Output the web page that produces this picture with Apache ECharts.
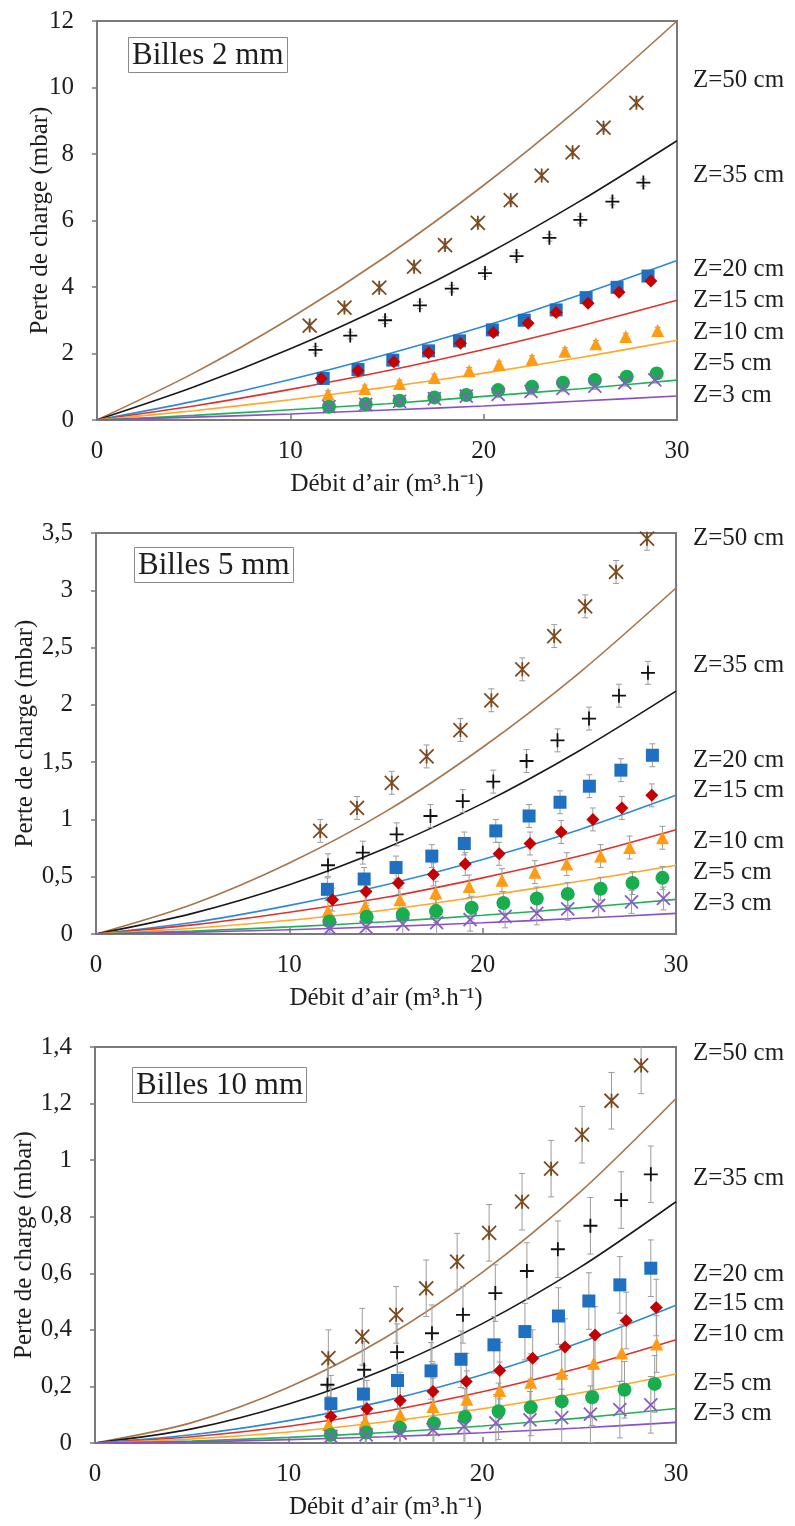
<!DOCTYPE html>
<html>
<head>
<meta charset="utf-8">
<script src="https://cdn.jsdelivr.net/npm/echarts@6/dist/echarts.min.js"></script>
<style>
html,body{margin:0;padding:0;background:#fff;}
#chart{width:795px;height:1526px;}
</style>
</head>
<body>
<div id="chart"></div>
<script>
// ---------------- DATA ----------------
const Z_LABELS = ['Z=50 cm','Z=35 cm','Z=20 cm','Z=15 cm','Z=10 cm','Z=5 cm','Z=3 cm'];
const PANEL_TITLES = ['Billes 2 mm','Billes 5 mm','Billes 10 mm'];
const X_TITLE = 'Débit d’air (m³.h⁻¹)';
const Y_TITLE = 'Perte de charge (mbar)';
const X_TICKS = ['0','10','20','30'];
const P1_YTICKS = ['0','2','4','6','8','10','12'];
const P2_YTICKS = ['0','0,5','1','1,5','2','2,5','3','3,5'];
const P3_YTICKS = ['0','0,2','0,4','0,6','0,8','1','1,2','1,4'];
const ERR = 0.1; // half-height of the error bars (mbar)

// model curves (read at these abscissae)
const MODEL_X = [0,5,10,15,20,25,30];
const P1_MODEL_Y = [
  [0,1.41,3.06,4.94,7.06,9.42,12.0],
  [0,0.99,2.14,3.46,4.94,6.59,8.4],
  [0,0.56,1.22,1.98,2.82,3.77,4.8],
  [0,0.42,0.92,1.48,2.12,2.83,3.6],
  [0,0.28,0.61,0.99,1.41,1.88,2.4],
  [0,0.14,0.31,0.49,0.71,0.94,1.2],
  [0,0.085,0.18,0.30,0.42,0.57,0.72]
];
const P2_MODEL_Y = [
  [0,0.26,0.62,1.07,1.63,2.28,3.02],
  [0,0.18,0.43,0.75,1.14,1.60,2.12],
  [0,0.10,0.25,0.43,0.65,0.91,1.21],
  [0,0.08,0.19,0.32,0.49,0.68,0.91],
  [0,0.05,0.12,0.21,0.33,0.46,0.60],
  [0,0.026,0.062,0.107,0.163,0.228,0.302],
  [0,0.016,0.037,0.064,0.098,0.137,0.18]
];
const P3_MODEL_Y = [
  [0,0.072,0.197,0.373,0.603,0.884,1.218],
  [0,0.050,0.138,0.261,0.422,0.619,0.853],
  [0,0.029,0.079,0.149,0.241,0.354,0.487],
  [0,0.022,0.059,0.112,0.181,0.265,0.365],
  [0,0.014,0.039,0.075,0.121,0.177,0.244],
  [0,0.007,0.020,0.037,0.060,0.088,0.122],
  [0,0.004,0.012,0.022,0.036,0.053,0.073]
];

// measurements, panel 1 (Billes 2 mm)
const P1_MEAS_X = [
  [11.0,12.8,14.6,16.4,18.0,19.7,21.4,23.0,24.6,26.2,27.9],
  [11.3,13.1,14.9,16.7,18.35,20.07,21.7,23.4,25.0,26.66,28.26],
  [11.7,13.5,15.3,17.15,18.75,20.45,22.1,23.75,25.3,26.9,28.5],
  [11.6,13.5,15.35,17.15,18.8,20.5,22.3,23.75,25.4,27.0,28.65],
  [11.95,13.85,15.65,17.45,19.25,20.8,22.5,24.2,25.8,27.35,29.0],
  [12.0,13.9,15.65,17.45,19.1,20.75,22.5,24.1,25.75,27.4,28.95],
  [12.0,13.9,15.65,17.45,19.1,20.75,22.45,24.1,25.75,27.3,28.85]
];
const P1_MEAS_Y = [
  [2.84,3.38,3.98,4.61,5.26,5.93,6.61,7.35,8.05,8.79,9.54],
  [2.11,2.54,3.0,3.45,3.95,4.42,4.93,5.48,6.02,6.57,7.14],
  [1.25,1.52,1.80,2.08,2.38,2.71,3.0,3.31,3.68,3.99,4.33],
  [1.25,1.48,1.75,2.02,2.31,2.63,2.91,3.23,3.51,3.84,4.18],
  [0.78,0.95,1.10,1.28,1.48,1.67,1.83,2.07,2.29,2.51,2.69],
  [0.40,0.48,0.58,0.68,0.75,0.90,1.0,1.12,1.20,1.30,1.40],
  [0.40,0.47,0.56,0.64,0.72,0.77,0.86,0.95,1.02,1.12,1.21]
];
// measurements, panel 2 (Billes 5 mm)
const P2_MEAS_X = [
  [11.6,13.5,15.3,17.1,18.85,20.45,22.05,23.7,25.3,26.9,28.5],
  [12.0,13.8,15.55,17.3,18.97,20.55,22.27,23.87,25.5,27.05,28.55],
  [11.97,13.87,15.52,17.37,19.05,20.68,22.4,24.0,25.52,27.15,28.78],
  [12.23,13.97,15.64,17.45,19.1,20.85,22.45,24.06,25.7,27.2,28.75],
  [12.0,13.92,15.72,17.57,19.3,21.0,22.7,24.35,26.1,27.6,29.3],
  [12.07,14.0,15.87,17.59,19.43,21.07,22.8,24.4,26.1,27.75,29.3],
  [12.1,13.97,15.87,17.62,19.35,21.16,22.8,24.4,26.0,27.7,29.35]
];
const P2_MEAS_Y = [
  [0.90,1.10,1.32,1.55,1.78,2.04,2.31,2.60,2.86,3.16,3.45],
  [0.60,0.71,0.87,1.03,1.16,1.33,1.51,1.69,1.88,2.08,2.28],
  [0.39,0.48,0.58,0.68,0.79,0.90,1.03,1.15,1.29,1.43,1.56],
  [0.30,0.37,0.445,0.52,0.61,0.70,0.79,0.89,1.0,1.10,1.21],
  [0.20,0.24,0.30,0.36,0.415,0.47,0.54,0.61,0.68,0.755,0.84],
  [0.11,0.15,0.17,0.20,0.23,0.27,0.31,0.35,0.395,0.445,0.49],
  [0.05,0.06,0.087,0.10,0.125,0.154,0.18,0.22,0.25,0.28,0.31]
];
// measurements, panel 3 (Billes 10 mm)
const P3_MEAS_X = [
  [12.05,13.8,15.55,17.1,18.7,20.35,22.05,23.55,25.15,26.67,28.2],
  [12.0,13.9,15.6,17.4,19.0,20.67,22.3,23.9,25.58,27.17,28.7],
  [12.18,13.86,15.62,17.35,18.9,20.6,22.2,23.93,25.5,27.1,28.7],
  [12.18,14.04,15.76,17.45,19.17,20.9,22.6,24.27,25.82,27.43,28.98],
  [12.06,13.95,15.76,17.45,19.2,20.9,22.5,24.1,25.75,27.2,29.0],
  [12.18,14.0,15.73,17.5,19.1,20.84,22.5,24.1,25.67,27.34,28.9],
  [12.18,14.0,15.76,17.45,19.05,20.7,22.46,24.1,25.58,27.1,28.7]
];
const P3_MEAS_Y = [
  [0.30,0.376,0.453,0.547,0.641,0.743,0.853,0.97,1.09,1.21,1.335],
  [0.206,0.259,0.321,0.388,0.453,0.53,0.608,0.685,0.768,0.859,0.95],
  [0.139,0.173,0.221,0.255,0.296,0.347,0.394,0.449,0.502,0.559,0.618],
  [0.094,0.121,0.150,0.182,0.217,0.256,0.30,0.339,0.382,0.433,0.479],
  [0.065,0.076,0.10,0.129,0.155,0.186,0.215,0.247,0.282,0.318,0.35],
  [0.029,0.037,0.055,0.07,0.092,0.112,0.126,0.147,0.162,0.188,0.209],
  [0.023,0.029,0.035,0.047,0.059,0.071,0.082,0.09,0.102,0.118,0.135]
];

// ---------------- STYLE / LAYOUT ----------------
const FONT = '"Liberation Serif", "Times New Roman", serif';
const TXT = '#1e1e1e';
const FRAME = '#7a7a7a';
const LINE_COLORS = ['#a8744a','#1a1a1a','#2e8ad6','#e0322c','#ffa726','#22b05a','#8b4fc6'];
const MARK_COLORS = ['#7b4a1f','#111111','#1f70c1','#c40000','#ff9c14','#18ad4e','#8a5ac6'];
const STAR = 'path://M0,0L10,10M10,0L0,10M5,0L5,10';
const PLUS = 'path://M5,0L5,10M0,5L10,5';
const XMARK = 'path://M0,0L10,10M10,0L0,10';
const SYMBOLS = [STAR, PLUS, 'rect', 'diamond', 'triangle', 'circle', XMARK];
const SYM_SIZES = [14, 14, 13, 13, 13, 14, 13];
const STROKED = [true, true, false, false, false, false, true];

const PANELS = [
  {grid:{left:97, top:21, width:580, height:399}, max:12, interval:2, yTicks:P1_YTICKS, nameGap:44,
   title:{left:128, top:37}, labelY:[80,175,269,300,332,363,395],
   modelY:P1_MODEL_Y, measX:P1_MEAS_X, measY:P1_MEAS_Y},
  {grid:{left:96, top:533, width:580, height:401}, max:3.5, interval:0.5, yTicks:P2_YTICKS, nameGap:58,
   title:{left:134, top:547}, labelY:[538,665,760,790,841,872,903],
   modelY:P2_MODEL_Y, measX:P2_MEAS_X, measY:P2_MEAS_Y},
  {grid:{left:95, top:1047, width:581, height:396}, max:1.4, interval:0.2, yTicks:P3_YTICKS, nameGap:58,
   title:{left:132, top:1067}, labelY:[1053,1178,1274,1303,1334,1383,1413],
   modelY:P3_MODEL_Y, measX:P3_MEAS_X, measY:P3_MEAS_Y}
];

const grids = [], xAxes = [], yAxes = [], series = [], titles = [], graphics = [];

PANELS.forEach((p, pi) => {
  grids.push(Object.assign({show:true, borderColor:FRAME, borderWidth:2, backgroundColor:'transparent', containLabel:false}, p.grid));
  xAxes.push({
    type:'value', gridIndex:pi, min:0, max:30, interval:10,
    name:X_TITLE, nameLocation:'middle', nameGap:52, nameMoveOverlap:false,
    nameTextStyle:{fontFamily:FONT, fontSize:25, color:TXT},
    axisLine:{show:true, lineStyle:{color:FRAME, width:2}},
    axisTick:{show:true, inside:true, length:6, lineStyle:{color:FRAME, width:1.5}},
    axisLabel:{fontFamily:FONT, fontSize:25, color:TXT, margin:19,
      formatter:(v)=>X_TICKS[Math.round(v/10)]},
    splitLine:{show:false}
  });
  yAxes.push({
    type:'value', gridIndex:pi, min:0, max:p.max, interval:p.interval,
    name:Y_TITLE, nameLocation:'middle', nameGap:p.nameGap, nameMoveOverlap:false,
    nameTextStyle:{fontFamily:FONT, fontSize:25, color:TXT},
    axisLine:{show:true, lineStyle:{color:FRAME, width:2}},
    axisTick:{show:true, inside:false, length:5, lineStyle:{color:FRAME, width:1.5}},
    axisLabel:{fontFamily:FONT, fontSize:25, color:TXT, margin:23,
      formatter:(v)=>p.yTicks[Math.round(v/p.interval)]},
    splitLine:{show:false}
  });
  titles.push({
    text:PANEL_TITLES[pi], left:p.title.left, top:p.title.top,
    padding:[3,4,2,4], borderColor:'#8a8a8a', borderWidth:1, backgroundColor:'#fff',
    textStyle:{fontFamily:FONT, fontSize:31, fontWeight:'normal', color:TXT}
  });
  // model lines
  p.modelY.forEach((ys, si) => {
    series.push({
      type:'line', xAxisIndex:pi, yAxisIndex:pi, smooth:0.3,
      showSymbol:false, symbol:'none', z:2, silent:true,
      lineStyle:{color:LINE_COLORS[si], width:1.6},
      data: MODEL_X.map((x, k) => [x, ys[k]])
    });
  });
  // error bars
  p.measY.forEach((ys, si) => {
    series.push({
      type:'custom', xAxisIndex:pi, yAxisIndex:pi, z:3, silent:true, clip:true,
      data: ys.map((y, k) => [p.measX[si][k], y - ERR, y + ERR]),
      renderItem:(params, api) => {
        const lo = api.coord([api.value(0), api.value(1)]);
        const hi = api.coord([api.value(0), api.value(2)]);
        const c = 3;
        const st = {stroke:'#9c9c9c', lineWidth:1};
        return {type:'group', children:[
          {type:'line', shape:{x1:lo[0], y1:lo[1], x2:hi[0], y2:hi[1]}, style:st},
          {type:'line', shape:{x1:lo[0]-c, y1:lo[1], x2:lo[0]+c, y2:lo[1]}, style:st},
          {type:'line', shape:{x1:hi[0]-c, y1:hi[1], x2:hi[0]+c, y2:hi[1]}, style:st}
        ]};
      }
    });
  });
  // measured points
  p.measY.forEach((ys, si) => {
    const stroked = STROKED[si];
    series.push({
      type:'scatter', xAxisIndex:pi, yAxisIndex:pi, z:4, silent:true,
      symbol:SYMBOLS[si], symbolSize:SYM_SIZES[si],
      itemStyle: stroked
        ? {color:'rgba(0,0,0,0)', borderColor:MARK_COLORS[si], borderWidth:1.8, opacity:1}
        : {color:MARK_COLORS[si], borderWidth:0, opacity:1},
      data: ys.map((y, k) => [p.measX[si][k], y])
    });
  });
  // right-hand labels
  Z_LABELS.forEach((lab, si) => {
    graphics.push({type:'text', x:693, y:p.labelY[si], silent:true,
      style:{text:lab, font:'25px ' + FONT, fill:TXT, verticalAlign:'middle', align:'left'}});
  });
});

const chart = echarts.init(document.getElementById('chart'), null, {renderer:'canvas'});
chart.setOption({
  animation:false,
  backgroundColor:'#ffffff',
  title:titles,
  grid:grids,
  xAxis:xAxes,
  yAxis:yAxes,
  series:series,
  graphic:graphics
});
</script>
</body>
</html>
